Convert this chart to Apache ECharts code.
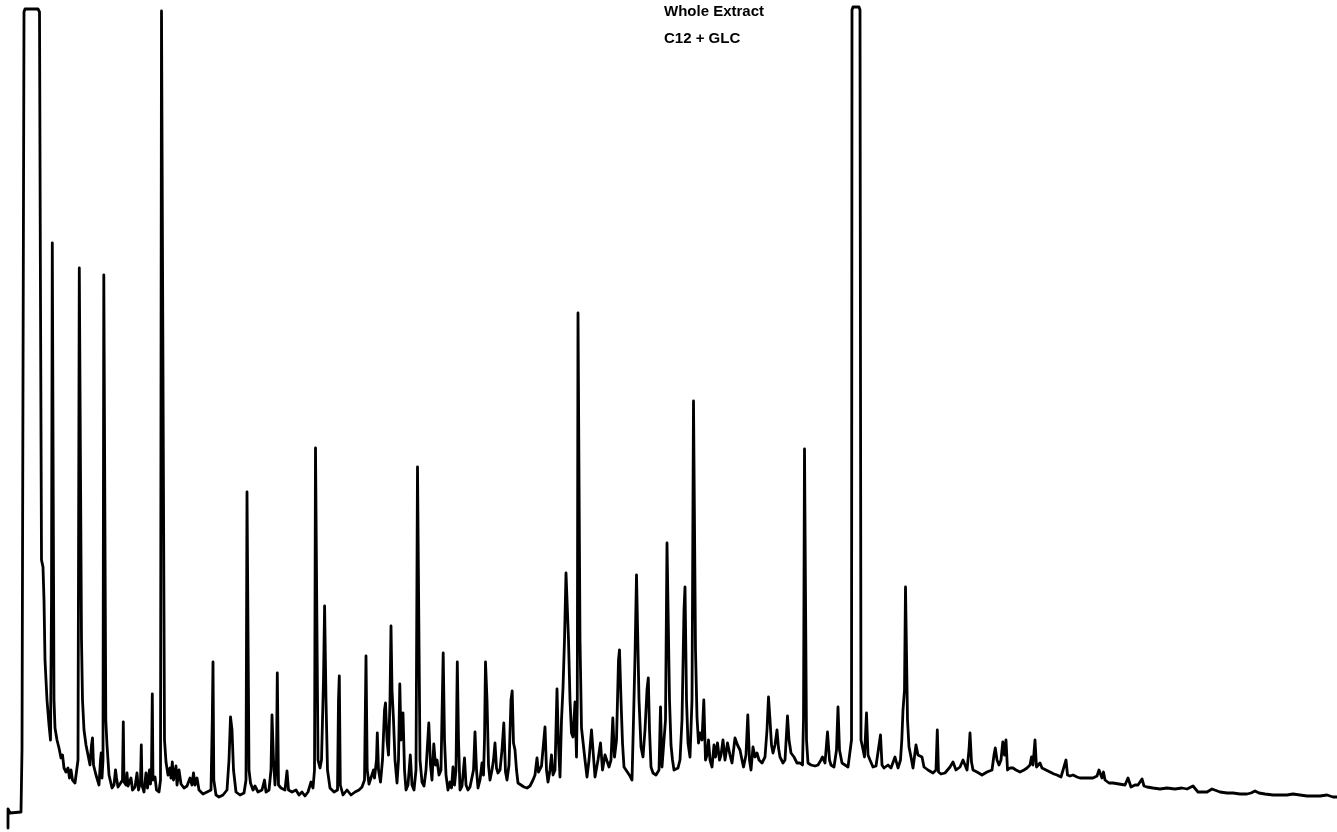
<!DOCTYPE html>
<html>
<head>
<meta charset="utf-8">
<title>Whole Extract – C12 + GLC</title>
<script src="https://cdn.jsdelivr.net/npm/echarts@6/dist/echarts.min.js"></script>
<style>
  html, body { margin: 0; padding: 0; background: #ffffff; }
  #chart { width: 1337px; height: 832px; }
</style>
</head>
<body>
<div id="chart"></div>
<script>
// Chromatogram trace: retention position and detector response at each vertex
const retention = [
  8, 8, 10, 21, 22, 23, 24, 25, 38, 39.5, 40.5, 41.5, 43, 44, 45, 47, 49, 50.5, 51.5, 52.3,
  53, 54, 55, 56, 57, 59, 61, 62.5, 64, 66, 68, 69.5, 71, 72.5, 75, 77, 78, 79.3, 80.3, 81.5,
  82.5, 84, 86, 88, 90, 91.5, 92.5, 93.5, 96, 99, 100.5, 101.2, 102, 103, 103.8, 104.6, 105.8, 107, 109, 112,
  114, 115.5, 116.5, 118, 120, 122.5, 123.3, 124, 126, 127, 128, 130, 131, 132.5, 135, 137, 138.5, 140.5, 141.3, 142,
  144, 146, 147.5, 149.5, 150.5, 151.5, 152.3, 153, 155, 156.5, 159, 160.5, 161.5, 163.5, 164.5, 166, 168, 170, 171, 172.3,
  173.5, 176, 177, 179, 181, 184, 187, 190, 192, 193.5, 195, 197, 199, 203, 207, 211, 212.3, 213, 213.8, 216,
  219, 223, 227, 229, 230.5, 232, 233.5, 236, 240, 244, 246, 247, 247.8, 249, 250.5, 253, 255, 258, 262, 264.5,
  266, 269, 271, 272, 273.5, 275, 276.5, 277.3, 278.5, 281, 285, 287, 288.5, 292, 296, 299, 302, 305, 308, 311,
  313, 314.5, 315.5, 316.5, 318, 320, 321.5, 323.5, 324.6, 326, 327.5, 330, 334, 337.5, 338.5, 339.3, 340.3, 343, 347, 351,
  355, 359, 362, 364.5, 366, 367.2, 369, 371, 373.5, 374.5, 376.5, 377.3, 378.5, 380.5, 382.5, 384.5, 385.5, 387, 388.5, 390,
  391, 392, 393.5, 395, 397, 398.5, 399.8, 401, 403, 404.5, 406, 408, 410.3, 412, 414, 416, 417.5, 418.5, 420, 422,
  424, 426, 428.8, 430.5, 432, 433.8, 435.5, 437, 439, 441, 442.3, 443.2, 444.5, 446, 448, 450, 451.5, 453, 454.5, 456,
  457.3, 458.5, 460, 462, 464.5, 466, 468, 470, 472, 473.5, 475, 476.5, 478, 480, 482, 483.5, 484.5, 485.5, 487, 488.5,
  490, 492, 493.5, 495, 496.5, 498, 500, 502, 503.8, 505.5, 507, 509, 511, 512.2, 513.5, 515, 516.5, 518, 521, 524,
  527, 530, 533, 535, 537, 538.5, 540, 541.5, 543, 545, 546.5, 548, 550, 551.5, 553, 555, 557, 558.3, 560, 561.5,
  563, 564.5, 566, 567.3, 568.5, 570, 571.5, 573, 575, 576.5, 577.3, 578, 578.8, 580, 581.5, 583, 585, 587, 589, 591.5,
  593, 595, 598, 600.5, 602.5, 605, 607, 609, 611, 612.8, 614.5, 616.5, 618.5, 619.5, 621, 622.5, 624, 626, 628, 630,
  632, 633.5, 635, 636.5, 637.5, 639, 641, 643, 645, 647, 648.3, 649.5, 651, 653, 656, 659, 660.5, 662, 664, 665.5,
  667, 668, 669.5, 671, 672.5, 674, 676, 678, 680, 682, 684, 685, 686.5, 688, 690, 692, 693.5, 694.5, 695.5, 697,
  698.5, 700, 702, 703.8, 705.5, 707, 708.5, 710, 712, 714, 715.5, 717.5, 719.5, 721, 723, 725, 727.5, 730, 732, 735,
  737.5, 740, 742, 743.5, 746, 747.8, 749.5, 751, 753, 755, 757, 759, 762, 765, 767, 768.5, 770, 771.5, 773, 775,
  777, 778.5, 780, 783, 785, 787.5, 789, 791, 794, 797, 800, 802.5, 803.5, 804.5, 805.3, 806.5, 808, 811, 815, 818,
  821, 822.5, 825, 827.5, 829.5, 831, 834, 836.5, 838, 839.5, 842, 845, 848, 850, 851.5, 852, 853, 859, 860, 861,
  862.5, 864.5, 866.5, 868, 870, 873, 876, 878, 880.5, 882, 884, 888, 891, 895, 898, 900.5, 901.8, 903, 904.5, 905.5,
  906.5, 907.5, 909, 911, 913, 916, 918, 920, 922, 924, 928, 933, 936, 937.3, 938.5, 941, 945, 950, 953, 956,
  960, 963, 965, 967, 969, 970, 971.5, 973, 977, 982, 987, 992, 994, 995.3, 997, 999, 1001, 1002.8, 1004.5, 1006,
  1007.5, 1010, 1013, 1016, 1020, 1024, 1027, 1030, 1031.5, 1033, 1035, 1036.5, 1038, 1040, 1042, 1046, 1050, 1054, 1057, 1061,
  1063, 1066, 1067.5, 1070, 1073, 1077, 1080, 1087, 1093, 1097, 1099, 1100.5, 1102, 1103.5, 1105, 1109, 1113, 1119, 1125, 1128,
  1131, 1135, 1138, 1142, 1144, 1147, 1153, 1160, 1167, 1175, 1182, 1187, 1193, 1198, 1207, 1212, 1220, 1227, 1233, 1240,
  1247, 1251, 1255, 1259, 1265, 1273, 1280, 1287, 1293, 1300, 1307, 1313, 1320, 1327, 1333, 1337
];

const response = [
  -28, -9, -13, -12, 50, 52, 788, 791, 791, 788, 500, 240, 233, 200, 140, 100, 75, 60, 200, 557,
  557, 100, 72, 74, 60, 52, 42, 45, 32, 28, 32, 22, 30, 20, 17, 17, 40, 532, 532, 160,
  100, 70, 55, 45, 35, 55, 62, 35, 25, 15, 40, 47, 22, 40, 525, 525, 80, 55, 25, 12,
  15, 30, 22, 13, 16, 20, 78, 18, 15, 27, 14, 16, 22, 10, 13, 27, 10, 18, 55, 15,
  8, 27, 12, 30, 16, 30, 106, 20, 23, 10, 8, 20, 789, 789, 60, 38, 25, 32, 22, 38,
  20, 34, 15, 30, 16, 12, 14, 22, 15, 27, 15, 22, 10, 6, 8, 10, 80, 138, 20, 5,
  3, 5, 10, 40, 83, 70, 30, 8, 5, 7, 20, 308, 308, 30, 17, 10, 14, 8, 10, 20,
  8, 10, 30, 85, 40, 15, 40, 127, 15, 12, 10, 29, 10, 8, 10, 5, 8, 4, 8, 18,
  12, 30, 352, 352, 40, 32, 40, 120, 194, 100, 30, 12, 8, 10, 100, 124, 15, 5, 10, 5,
  8, 10, 13, 20, 144, 30, 16, 15, 30, 22, 40, 67, 30, 18, 40, 90, 97, 60, 45, 100,
  174, 110, 80, 40, 17, 40, 116, 60, 87, 30, 10, 15, 45, 15, 10, 30, 333, 333, 40, 18,
  14, 30, 77, 35, 20, 56, 35, 40, 25, 30, 100, 147, 60, 25, 10, 18, 12, 33, 15, 30,
  138, 60, 10, 14, 42, 15, 10, 13, 12, 30, 68, 30, 12, 20, 37, 25, 60, 138, 100, 35,
  20, 30, 40, 57, 32, 27, 30, 50, 77, 28, 20, 35, 100, 109, 57, 50, 30, 17, 15, 13,
  12, 14, 20, 25, 42, 28, 27, 34, 35, 73, 30, 18, 30, 45, 25, 30, 111, 60, 23, 80,
  112, 160, 227, 229, 160, 100, 67, 63, 98, 43, 100, 487, 487, 160, 72, 70, 40, 23, 40, 70,
  50, 23, 40, 57, 30, 45, 47, 33, 40, 82, 43, 60, 140, 150, 100, 57, 33, 32, 27, 24,
  20, 80, 143, 225, 225, 100, 53, 43, 70, 110, 122, 70, 33, 27, 25, 30, 93, 33, 32, 80,
  257, 257, 100, 55, 40, 30, 28, 32, 40, 80, 190, 213, 100, 57, 43, 100, 399, 399, 150, 83,
  57, 67, 60, 100, 40, 45, 60, 40, 33, 55, 43, 57, 40, 45, 60, 40, 57, 45, 37, 62,
  55, 50, 40, 33, 45, 85, 40, 30, 53, 43, 47, 40, 37, 43, 70, 103, 80, 55, 47, 55,
  70, 52, 43, 37, 40, 84, 60, 47, 43, 37, 37, 35, 80, 351, 351, 60, 37, 35, 34, 35,
  40, 43, 37, 68, 40, 35, 33, 50, 93, 50, 37, 35, 33, 35, 60, 790, 793, 793, 790, 60,
  53, 43, 87, 45, 40, 33, 34, 32, 65, 35, 32, 35, 32, 43, 32, 40, 60, 90, 110, 213,
  213, 80, 53, 43, 32, 55, 45, 43, 43, 33, 30, 27, 30, 70, 28, 26, 27, 33, 38, 30,
  33, 40, 40, 30, 50, 67, 38, 30, 28, 25, 28, 30, 45, 52, 40, 35, 40, 58, 45, 60,
  30, 32, 32, 30, 28, 30, 32, 35, 43, 35, 60, 33, 35, 37, 32, 30, 28, 26, 25, 23,
  24, 40, 25, 24, 25, 23, 22, 22, 22, 24, 30, 32, 22, 28, 20, 17, 17, 16, 15, 22,
  13, 15, 15, 21, 14, 13, 12, 11, 12, 11, 12, 11, 14, 8, 8, 11, 8, 7, 7, 6,
  6, 7, 9, 7, 6, 5, 5, 5, 6, 5, 4, 4, 4, 5, 3, 3
];

// Run annotation
const annotationLines = ['Whole Extract', 'C12 + GLC'];

const trace = retention.map((t, i) => [t, response[i]]);

const chart = echarts.init(document.getElementById('chart'), null, { renderer: 'canvas' });

chart.setOption({
  animation: false,
  backgroundColor: '#ffffff',
  grid: { left: 0, right: 0, top: 0, bottom: 0, containLabel: false },
  xAxis: {
    type: 'value', min: 0, max: 1337,
    show: false
  },
  yAxis: {
    type: 'value', min: -32, max: 800,
    show: false
  },
  graphic: annotationLines.map((line, i) => ({
    type: 'text',
    left: 664,
    top: 4 + i * 27,
    style: {
      text: line,
      fill: '#000000',
      font: 'bold 15px "Liberation Sans", Arial, sans-serif'
    }
  })),
  series: [{
    type: 'line',
    data: trace,
    symbol: 'none',
    smooth: false,
    clip: false,
    lineStyle: { color: '#000000', width: 2.8, join: 'round', cap: 'round' }
  }]
});
</script>
</body>
</html>
